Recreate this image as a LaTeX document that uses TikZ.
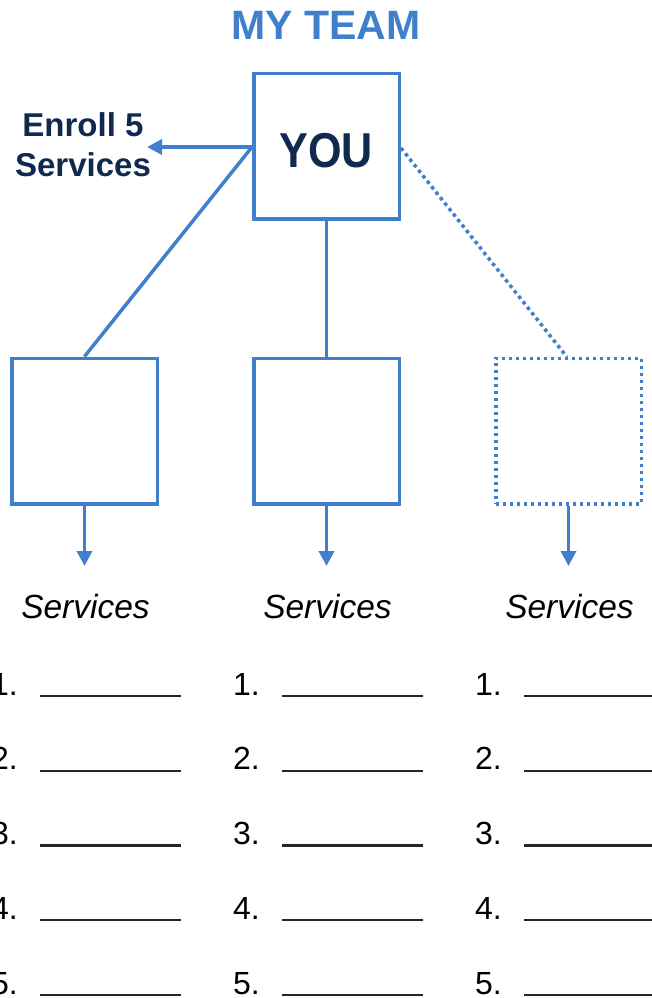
\documentclass[tikz,border=0pt]{standalone}
\usepackage{fontspec}
\setmainfont{Liberation Sans}
\usetikzlibrary{arrows.meta}
\definecolor{teamblue}{HTML}{3F7FCB}
\definecolor{teamnavy}{HTML}{102A4F}

\begin{document}
\begin{tikzpicture}[x=1pt,y=-1pt,
    member/.style={draw=teamblue,line width=3.5pt,minimum width=145.5pt,minimum height=145.5pt,inner sep=0pt},
    open/.style={dash pattern=on 3.5pt off 3.5pt},
    link/.style={draw=teamblue,line width=3.5pt},
    >={Triangle[length=15pt,width=15pt]}]
    \useasboundingbox (0,0) rectangle (651,998);

    \node[font=\bfseries\fontsize{41}{48}\selectfont,text=teamblue] (title) at (326,25) {MY TEAM};
    \node[member] (you) at (326.5,146) {};
    \node[font=\bfseries\fontsize{49}{56}\selectfont,text=teamnavy] (youtext) at (326,151) {\scalebox{0.88}[1]{YOU}};
    \node[font=\bfseries\fontsize{33}{40}\selectfont,text=teamnavy,align=center,inner sep=0pt] (enroll) at (83,145) {Enroll 5\\Services};
    \coordinate (tip) at (147,147);
    \draw[link,->] (252,147) -- (tip);

    \node[member] (left) at (84.5,431) {};
    \node[member] (mid) at (326.5,431) {};
    \node[member,open] (right) at (568.5,431) {};

    \draw[link] (252,147) -- (left.north);
    \draw[link] (you.south) -- (mid.north);
    \draw[link,open] (401,148) -- (567,357);

    \foreach \n/\x in {left/84.5,mid/326.5,right/568.5} {
        \coordinate (\n down) at (\x,566);
        \draw[link,->] (\n.south) -- (\n down);
        \node[font=\itshape\fontsize{33.5}{40}\selectfont,anchor=base,inner sep=0pt] (\n serv) at (\x+1,618) {Services};
    }

    % blanks under each column
    \foreach \c in {0,1,2}
        \foreach \i in {1,...,5} {
            \node[font=\fontsize{32}{38}\selectfont,anchor=base east,inner sep=0pt] (num\c\i) at (18+242*\c,695+74.75*\i-74.75) {\i.};
            \coordinate (bl\c\i) at (40+242*\c,696+74.75*\i-74.75);
            \coordinate (br\c\i) at (181+242*\c,696+74.75*\i-74.75);
            \draw[line width=2.2pt,black!85] (bl\c\i) -- (br\c\i);
        }
\end{tikzpicture}
\end{document}
